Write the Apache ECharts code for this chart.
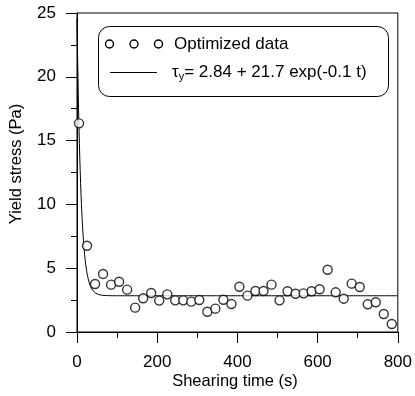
<!DOCTYPE html>
<html>
<head>
<meta charset="utf-8">
<script src="https://cdn.jsdelivr.net/npm/echarts@6/dist/echarts.min.js"></script>
<style>
  html, body { margin: 0; padding: 0; background: #fff; }
  #chart { width: 415px; height: 396px; }
</style>
</head>
<body>
<div id="chart"></div>
<script>
// Shearing time (s) of each measurement
const shearTime = [5, 25, 45, 65, 85, 105, 125, 145, 165, 185,
                   205, 225, 245, 265, 285, 305, 325, 345, 365, 385,
                   405, 425, 445, 465, 485, 505, 525, 545, 565, 585,
                   605, 625, 645, 665, 685, 705, 725, 745, 765, 785];
// Measured yield stress (Pa)
const yieldStress = [16.35, 6.76, 3.76, 4.55, 3.71, 3.94, 3.32, 1.91, 2.64, 3.06,
                     2.46, 2.95, 2.48, 2.48, 2.38, 2.51, 1.59, 1.83, 2.53, 2.19,
                     3.55, 2.85, 3.21, 3.21, 3.71, 2.48, 3.19, 3.00, 3.03, 3.19,
                     3.35, 4.88, 3.11, 2.61, 3.79, 3.53, 2.17, 2.33, 1.41, 0.63];
// Exponential decay model: tau_y = a + b * exp(-k t)
const fitA = 2.84, fitB = 21.7, fitK = 0.1;
const xTicks = [0, 200, 400, 600, 800];
const yTicks = [0, 5, 10, 15, 20, 25];

const fitCurve = [];
for (let t = 0; t <= 800; t += 1) {
  fitCurve.push([t, fitA + fitB * Math.exp(-fitK * t)]);
}

const FONT = 'Liberation Sans, Arial, sans-serif';
const chart = echarts.init(document.getElementById('chart'), null, { renderer: 'canvas' });

chart.setOption({
  animation: false,
  backgroundColor: '#fff',
  grid: {
    left: 77, right: 16, top: 13, bottom: 64,
    show: true, borderColor: '#000', borderWidth: 1, backgroundColor: 'transparent'
  },
  xAxis: {
    type: 'value', min: xTicks[0], max: xTicks[xTicks.length - 1], interval: 200,
    axisLine: { lineStyle: { color: '#000', width: 1 } },
    axisTick: { show: true, length: 11, lineStyle: { color: '#000' } },
    minorTick: { show: true, splitNumber: 2, length: 6, lineStyle: { color: '#000' } },
    splitLine: { show: false },
    axisLabel: { color: '#000', fontSize: 17, fontFamily: FONT, margin: 22 }
  },
  yAxis: {
    type: 'value', min: yTicks[0], max: yTicks[yTicks.length - 1], interval: 5,
    axisLine: { show: true, lineStyle: { color: '#000', width: 1 } },
    axisTick: { show: true, length: 11, lineStyle: { color: '#000' } },
    minorTick: { show: true, splitNumber: 2, length: 6, lineStyle: { color: '#000' } },
    splitLine: { show: false },
    axisLabel: { color: '#000', fontSize: 17, fontFamily: FONT, margin: 21 }
  },
  series: [
    {
      type: 'line', data: fitCurve, showSymbol: false, smooth: false,
      lineStyle: { color: '#000', width: 1 }, z: 2, clip: true
    },
    {
      type: 'scatter', data: shearTime.map((t, i) => [t, yieldStress[i]]),
      symbol: 'circle', symbolSize: 9,
      itemStyle: { color: '#fff', borderColor: '#000', borderWidth: 1.4 }, z: 3
    }
  ],
  graphic: [
    // y-axis title
    {
      type: 'text', x: 16, y: 164, rotation: Math.PI / 2,
      style: { text: 'Yield stress (Pa)', fill: '#000', font: '16.5px ' + FONT,
               align: 'center', verticalAlign: 'middle' }
    },
    // x-axis title
    {
      type: 'text', x: 235, y: 381,
      style: { text: 'Shearing time (s)', fill: '#000', font: '16.5px ' + FONT,
               align: 'center', verticalAlign: 'middle' }
    },
    // legend box
    {
      type: 'rect', shape: { x: 98.5, y: 26.5, width: 290, height: 70, r: 11 },
      style: { fill: '#fff', stroke: '#000', lineWidth: 1 }, z: 10
    },
    { type: 'circle', shape: { cx: 109.5, cy: 44, r: 4 }, style: { fill: '#fff', stroke: '#000', lineWidth: 1.4 }, z: 11 },
    { type: 'circle', shape: { cx: 134, cy: 44, r: 4 }, style: { fill: '#fff', stroke: '#000', lineWidth: 1.4 }, z: 11 },
    { type: 'circle', shape: { cx: 158.5, cy: 44, r: 4 }, style: { fill: '#fff', stroke: '#000', lineWidth: 1.4 }, z: 11 },
    {
      type: 'text', x: 174, y: 44, z: 11,
      style: { text: 'Optimized data', fill: '#000', font: '17px ' + FONT, verticalAlign: 'middle' }
    },
    { type: 'line', shape: { x1: 110, y1: 72.5, x2: 157, y2: 72.5 }, style: { stroke: '#000', lineWidth: 1 }, z: 11 },
    {
      type: 'text', x: 172, y: 72, z: 11,
      style: {
        text: '{t|τ}{s|y}{t|= ' + fitA.toFixed(2) + ' + ' + fitB + ' exp(-' + fitK + ' t)}',
        verticalAlign: 'middle',
        rich: {
          t: { fontSize: 17, fontFamily: FONT, fill: '#000' },
          s: { fontSize: 11, fontFamily: FONT, fill: '#000', padding: [10, 0, 0, 0] }
        }
      }
    }
  ]
});
</script>
</body>
</html>
